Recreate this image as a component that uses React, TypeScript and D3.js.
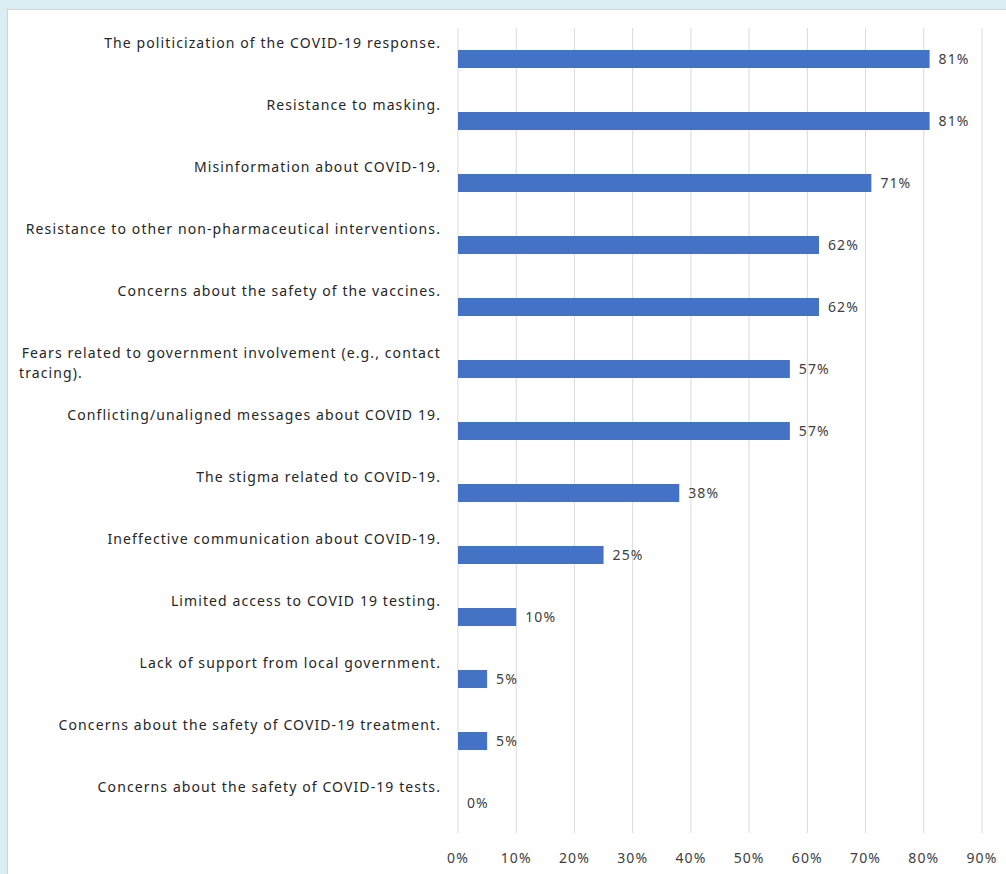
import React from "react";
import * as d3 from "d3";

const categories: string[][] = [
  ["The politicization of the COVID-19 response."],
  ["Resistance to masking."],
  ["Misinformation about COVID-19."],
  ["Resistance to other non-pharmaceutical interventions."],
  ["Concerns about the safety of the vaccines."],
  ["Fears related to government involvement (e.g., contact", "tracing)."],
  ["Conflicting/unaligned messages about COVID 19."],
  ["The stigma related to COVID-19."],
  ["Ineffective communication about COVID-19."],
  ["Limited access to COVID 19 testing."],
  ["Lack of support from local government."],
  ["Concerns about the safety of COVID-19 treatment."],
  ["Concerns about the safety of COVID-19 tests."],
];
const values: number[] = [81, 81, 71, 62, 62, 57, 57, 38, 25, 10, 5, 5, 0];
const ticks: number[] = [0, 10, 20, 30, 40, 50, 60, 70, 80, 90];

export default function App() {
  const W = 1006, H = 874;
  const x = d3.scaleLinear().domain([0, 90]).range([458, 982]);
  const idx = d3.range(categories.length);
  const y = d3.scaleBand<number>().domain(idx).range([28, 834]).paddingInner(0.71).paddingOuter(0.355);
  const font = "'Noto Sans', 'Open Sans', sans-serif";
  const fs = 14;
  const ls = 1.1;
  return (
    <svg width={W} height={H} style={{ position: "absolute", left: 0, top: 0 }}>
      <rect x={0} y={0} width={W} height={H} fill="#daeef3" />
      <rect x={7.5} y={9.5} width={W} height={H} fill="#ffffff" stroke="#d4d4d4" />
      {ticks.map((t) => (
        <line key={t} x1={x(t)} x2={x(t)} y1={28} y2={833} stroke="#d9d9d9" strokeWidth={1} />
      ))}
      {ticks.map((t) => (
        <text key={"t" + t} x={x(t)} y={863} textAnchor="middle" fontFamily={font} fontSize={fs} letterSpacing={ls} fill="#404040">
          {t}%
        </text>
      ))}
      {idx.map((i) => {
        const yc = (y(i) as number) + y.bandwidth() / 2;
        const lines = categories[i];
        return (
          <g key={i}>
            {values[i] > 0 && (
              <rect x={x(0)} y={y(i)} width={x(values[i]) - x(0)} height={y.bandwidth()} fill="#4472c4" />
            )}
            <text x={x(values[i]) + 9} y={yc + 5} fontFamily={font} fontSize={fs} letterSpacing={ls} fill="#404040">
              {values[i]}%
            </text>
            {lines.length === 1 ? (
              <text x={441} y={yc - 11} textAnchor="end" fontFamily={font} fontSize={fs} letterSpacing={ls} fill="#262626">
                {lines[0]}
              </text>
            ) : (
              lines.map((l, k) => (
                <text key={k} x={k === 0 ? 441 : 19} y={yc - 11 + k * 20} textAnchor={k === 0 ? "end" : "start"} fontFamily={font} fontSize={fs} letterSpacing={ls} fill="#262626">
                  {l}
                </text>
              ))
            )}
          </g>
        );
      })}
    </svg>
  );
}
